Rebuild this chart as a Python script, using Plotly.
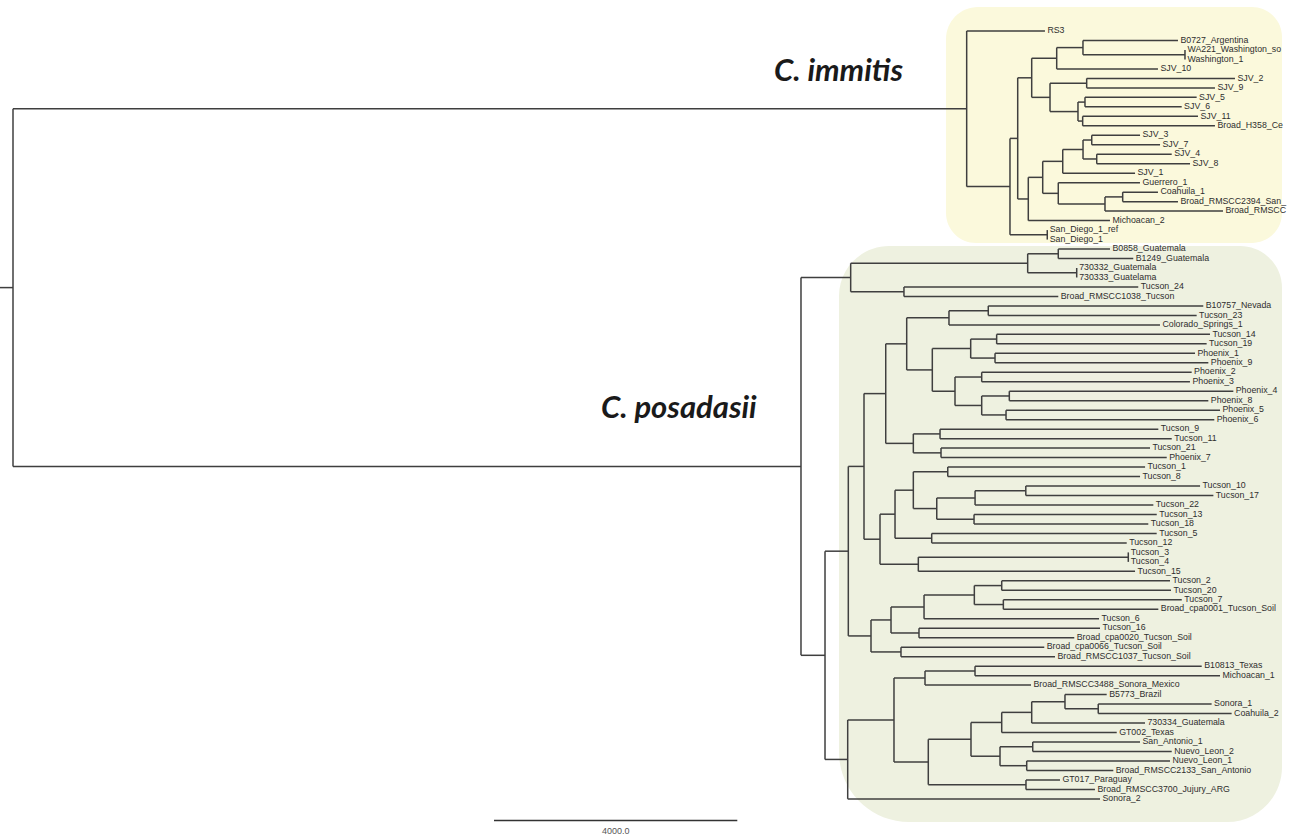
import plotly.graph_objects as go

# ---------------- data: tree in Newick format (branch lengths in substitutions) -------------
immitis_newick = (
    "(RS3:1287,"
    "("
    "("
    "("
    "((B0727_Argentina:1562,(WA221_Washington_so:0,Washington_1:0):1677):432,SJV_10:1665):411,"
    "((SJV_2:2438,SJV_9:2109):603,((SJV_5:1836,SJV_6:1590):115,(SJV_11:1896,Broad_H358_Ce:2175):77):460):301"
    "):230,"
    "("
    "("
    "(((SJV_3:794,SJV_7:1123):143,(SJV_4:1233,SJV_8:1534):225):334,SJV_1:1189):329,"
    "(Guerrero_1:1343,((Coahuila_1:580,Broad_RMSCC2394_San_:909):291,Broad_RMSCC:1940):768):256"
    "):237,"
    "Michoacan_2:1343"
    "):174"
    "):127,"
    "(San_Diego_1_ref:0,San_Diego_1:0):613"
    "):712"
    "):15679"
)

posadasii_newick = (
    "("
    "(((B0858_Guatemala:850,B1249_Guatemala:1233):503,(730332_Guatemala:0,730333_Guatelama:0):806):2910,"
    "(Tucson_24:3852,Broad_RMSCC1038_Tucson:2537):876):817,"
    "("
    "("
    "("
    "("
    "("
    "((B10757_Nevada:3535,Tucson_23:3426):646,Colorado_Springs_1:3469):695,"
    "("
    "((Tucson_14:3507,Tucson_19:3452):427,(Phoenix_1:3288,Phoenix_9:3507):400):631,"
    "((Phoenix_2:3452,Phoenix_3:3424):439,((Phoenix_4:3683,Phoenix_8:3272):454,(Phoenix_5:3518,Phoenix_6:3424):400):439):373"
    "):421"
    "):345,"
    "((Tucson_9:3589,Tucson_11:3809):439,(Tucson_21:3436,Phoenix_7:3711):455):454"
    "):357,"
    "("
    "("
    "((Tucson_1:3244,Tucson_8:3161):566,(((Tucson_10:2865,Tucson_17:3084):834,Tucson_22:2931):630,(Tucson_13:3004,Tucson_18:2865):613):385):301,"
    "(Tucson_5:3699,Tucson_12:3206):603"
    "):247,"
    "((Tucson_3:0,Tucson_4:0):3452,Tucson_15:3563):630"
    "):263"
    "):258,"
    "("
    "("
    "(((Tucson_2:2767,Tucson_20:2783):450,(Tucson_7:2933,Broad_cpa0001_Tucson_Soil:2548):477):827,Tucson_6:2877):543,"
    "(Tucson_16:2976,Broad_cpa0020_Tucson_Soil:2553):460"
    "):329,"
    "(Broad_cpa0066_Tucson_Soil:2356,Broad_RMSCC1037_Tucson_Soil:2532):493"
    "):373"
    "):383,"
    "("
    "("
    "((B10813_Texas:3727,Michoacan_1:4028):822,Broad_RMSCC3488_Sonora_Mexico:1743):510,"
    "("
    "("
    "(((B5773_Brazil:686,(Sonora_1:1864,Coahuila_2:2193):547):547,730334_Guatemala:1863):493,GT002_Texas:1891):505,"
    "((San_Antonio_1:1764,Nuevo_Leon_2:2285):538,(Nuevo_Leon_1:2356,Broad_RMSCC2133_San_Antonio:1424):439):477"
    "):702,"
    "(GT017_Paraguay:559,Broad_RMSCC3700_Jujury_ARG:1134):1606"
    "):564"
    "):761,"
    "Sonora_2:4148"
    "):373"
    "):395"
    "):12955"
)

root_branch_length = 214
scale_bar_length = 4000
scale_bar_label = "4000.0"
clade_names = ["C. immitis", "C. posadasii"]

# ---------------- parse & lay out the tree ----------------
def parse_newick(s):
    pos = 0

    def node():
        nonlocal pos
        n = {"children": [], "name": "", "length": 0.0}
        if s[pos] == "(":
            pos += 1
            while True:
                n["children"].append(node())
                if s[pos] == ",":
                    pos += 1
                    continue
                if s[pos] == ")":
                    pos += 1
                    break
        start = pos
        while pos < len(s) and s[pos] not in ",():;":
            pos += 1
        n["name"] = s[start:pos]
        if pos < len(s) and s[pos] == ":":
            pos += 1
            start = pos
            while pos < len(s) and s[pos] not in ",();":
                pos += 1
            n["length"] = float(s[start:pos])
        return n

    return node()


root = parse_newick("(" + immitis_newick + "," + posadasii_newick + ");")
leaves = []


def layout(n, x):
    n["x"] = x
    if not n["children"]:
        n["y"] = len(leaves)
        leaves.append(n)
    else:
        for c in n["children"]:
            layout(c, x + c["length"])
        n["y"] = (n["children"][0]["y"] + n["children"][-1]["y"]) / 2.0


layout(root, 0.0)

xs, ys = [], []


def seg(x0, y0, x1, y1):
    xs.extend([x0, x1, None])
    ys.extend([y0, y1, None])


def draw(n):
    if n["children"]:
        seg(n["x"], n["children"][0]["y"], n["x"], n["children"][-1]["y"])
        for c in n["children"]:
            seg(n["x"], c["y"], c["x"], c["y"])
            draw(c)


seg(-root_branch_length, root["y"], 0, root["y"])
draw(root)

# ---------------- pixel helpers for layout decorations ----------------
W, H = 1298, 838
X0_PX = 13.0
PX_PER_UNIT = 243.3 / 4000.0
Y0_PX = 31.0
ROW_PX = 9.48


def X(px):
    return (px - X0_PX) / PX_PER_UNIT


def Y(py):
    return (py - Y0_PX) / ROW_PX


def rrect(x0, y0, x1, y1, r_tl, r_tr, r_br, r_bl):
    k = 0.5523
    p = []
    p.append(f"M {X(x0 + r_tl)},{Y(y0)}")
    p.append(f"L {X(x1 - r_tr)},{Y(y0)}")
    p.append(f"C {X(x1 - r_tr + k * r_tr)},{Y(y0)} {X(x1)},{Y(y0 + r_tr - k * r_tr)} {X(x1)},{Y(y0 + r_tr)}")
    p.append(f"L {X(x1)},{Y(y1 - r_br)}")
    p.append(f"C {X(x1)},{Y(y1 - r_br + k * r_br)} {X(x1 - r_br + k * r_br)},{Y(y1)} {X(x1 - r_br)},{Y(y1)}")
    p.append(f"L {X(x0 + r_bl)},{Y(y1)}")
    p.append(f"C {X(x0 + r_bl - k * r_bl)},{Y(y1)} {X(x0)},{Y(y1 - r_bl + k * r_bl)} {X(x0)},{Y(y1 - r_bl)}")
    p.append(f"L {X(x0)},{Y(y0 + r_tl)}")
    p.append(f"C {X(x0)},{Y(y0 + r_tl - k * r_tl)} {X(x0 + r_tl - k * r_tl)},{Y(y0)} {X(x0 + r_tl)},{Y(y0)}")
    p.append("Z")
    return " ".join(p)


fig = go.Figure()

# branches
fig.add_trace(go.Scatter(
    x=xs, y=ys, mode="lines",
    line=dict(color="#3f3f3f", width=1.5),
    hoverinfo="skip", showlegend=False,
))

# tip labels
label_gap = 40
fig.add_trace(go.Scatter(
    x=[l["x"] + label_gap for l in leaves],
    y=[l["y"] for l in leaves],
    text=[l["name"] for l in leaves],
    mode="text", textposition="middle right",
    textfont=dict(family="Liberation Sans, Arial, sans-serif", size=8.8, color="#2e2e2e"),
    hoverinfo="text", showlegend=False,
))

# scale bar
sb_x0 = X(494)
sb_y = Y(820.5)
fig.add_trace(go.Scatter(
    x=[sb_x0, sb_x0 + scale_bar_length], y=[sb_y, sb_y], mode="lines",
    line=dict(color="#333333", width=1.6), hoverinfo="skip", showlegend=False,
))
fig.add_annotation(x=sb_x0 + scale_bar_length / 2, y=Y(830.5), text=scale_bar_label,
                   showarrow=False, xanchor="center", yanchor="middle",
                   font=dict(family="Liberation Sans, Arial", size=9, color="#555555"))

# clade labels
clade_font = dict(family="Lato, Open Sans, sans-serif", size=31, color="#1a1a1a")
fig.add_annotation(x=X(838), y=Y(69), text=f"<b><i>{clade_names[0]}</i></b>",
                   showarrow=False, xanchor="center", yanchor="middle", font=clade_font)
fig.add_annotation(x=X(679), y=Y(406), text=f"<b><i>{clade_names[1]}</i></b>",
                   showarrow=False, xanchor="center", yanchor="middle", font=clade_font)

# clade highlight boxes
fig.add_shape(type="path", xref="x", yref="y", layer="below",
              path=rrect(946, 7, 1282, 243, 32, 30, 30, 30),
              fillcolor="#fbf9dc", line=dict(width=0))
fig.add_shape(type="path", xref="x", yref="y", layer="below",
              path=rrect(839, 246, 1282, 822, 50, 42, 55, 70),
              fillcolor="#eef1e0", line=dict(width=0))

fig.update_layout(
    width=W, height=H,
    margin=dict(l=0, r=0, t=0, b=0),
    paper_bgcolor="white", plot_bgcolor="white",
    xaxis=dict(range=[X(0), X(W)], visible=False, fixedrange=True),
    yaxis=dict(range=[Y(H), Y(0)], visible=False, fixedrange=True),
)

fig.write_html("out.html", config={"displayModeBar": False},
               post_script="document.body.style.margin='0px';")
